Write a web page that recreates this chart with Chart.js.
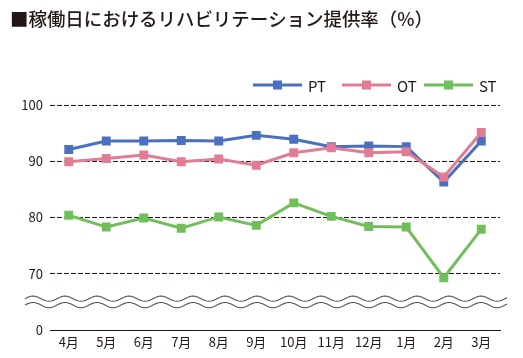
<!DOCTYPE html>
<html>
<head>
<meta charset="utf-8">
<script src="https://cdn.jsdelivr.net/npm/chart.js@4/dist/chart.umd.min.js"></script>
<style>
html,body{margin:0;padding:0;background:#fff;}
#wrap{width:523px;height:358px;position:relative;}
</style>
</head>
<body>
<div id="wrap"><canvas id="c" width="523" height="358"></canvas></div>
<script>
const titleText = '■稼働日におけるリハビリテーション提供率（%）';
const categories = ['4月','5月','6月','7月','8月','9月','10月','11月','12月','1月','2月','3月'];
const seriesNames = ['PT','OT','ST'];
const ptValues = [92.1, 93.6, 93.6, 93.7, 93.6, 94.6, 93.9, 92.6, 92.7, 92.6, 86.3, 93.6];
const otValues = [89.9, 90.5, 91.1, 89.9, 90.4, 89.3, 91.5, 92.4, 91.5, 91.7, 87.2, 95.1];
const stValues = [80.4, 78.3, 79.9, 78.1, 80.1, 78.6, 82.6, 80.2, 78.4, 78.3, 69.3, 77.9];
const tickValues = [60, 70, 80, 90, 100];
const tickLabels = ['0', '70', '80', '90', '100'];
const colors = ['#4b70bf', '#e07c93', '#71bf5a'];

const FONT = '"Noto Sans CJK JP", "Noto Sans", sans-serif';

const decor = {
  id: 'decor',
  afterDraw(chart) {
    const ctx = chart.ctx;
    const ca = chart.chartArea;
    const y = chart.scales.y;
    // title
    ctx.save();
    ctx.fillStyle = '#231815';
    ctx.font = '500 18.5px ' + FONT;
    ctx.textBaseline = 'middle';
    ctx.textAlign = 'left';
    const tw = ctx.measureText(titleText).width;
    const target = 423;
    ctx.translate(10, 19);
    ctx.scale(target / tw, 1);
    ctx.fillText(titleText, 0, 0);
    ctx.restore();
    // legend
    const starts = [253, 342, 424];
    ctx.save();
    chart.data.datasets.forEach((ds, i) => {
      const x0 = starts[i], ly = 85;
      ctx.strokeStyle = ds.borderColor;
      ctx.lineWidth = 3;
      ctx.beginPath(); ctx.moveTo(x0, ly); ctx.lineTo(x0 + 49, ly); ctx.stroke();
      ctx.fillStyle = ds.borderColor;
      ctx.fillRect(x0 + 24.5 - 4.5, ly - 4.5, 9, 9);
      ctx.fillStyle = '#231815';
      ctx.font = '15px ' + FONT;
      ctx.textBaseline = 'middle';
      ctx.fillText(ds.label, x0 + 55, ly + 1);
    });
    ctx.restore();
    // axis break waves
    const yc = (y.getPixelForValue(60) + y.getPixelForValue(70)) / 2;
    ctx.save();
    ctx.strokeStyle = '#555';
    ctx.lineWidth = 1.1;
    [-3.2, 3.2].forEach(off => {
      ctx.beginPath();
      for (let x = ca.left - 25; x <= ca.right + 7; x += 1) {
        const yy = yc + off + 2.6 * Math.sin((x - (ca.left - 25)) / 32 * 2 * Math.PI + Math.PI);
        if (x === ca.left - 25) ctx.moveTo(x, yy); else ctx.lineTo(x, yy);
      }
      ctx.stroke();
    });
    ctx.restore();
  }
};

const mk = (i, data, order) => ({
  label: seriesNames[i], data, borderColor: colors[i], backgroundColor: colors[i],
  borderWidth: 3, pointStyle: 'rect', pointRadius: 6.3, pointHoverRadius: 6.3,
  pointBorderWidth: 0, tension: 0, order
});

new Chart(document.getElementById('c'), {
  type: 'line',
  data: {
    labels: categories,
    datasets: [mk(0, ptValues, 1), mk(1, otValues, 0), mk(2, stValues, 2)]
  },
  options: {
    responsive: false, animation: false, devicePixelRatio: 1,
    layout: { padding: { top: 105, right: 23, bottom: 0, left: 0 } },
    plugins: { legend: { display: false }, title: { display: false }, tooltip: { enabled: false } },
    scales: {
      x: {
        offset: true,
        grid: { display: false, drawTicks: false, offset: true },
        border: { display: true, color: '#231815', width: 1 },
        ticks: { color: '#231815', font: { family: FONT, size: 13 }, padding: 4, maxRotation: 0, autoSkip: false },
        afterFit(s) { s.height = 28; }
      },
      y: {
        min: 60, max: 100,
        afterBuildTicks(s) { s.ticks = tickValues.map(v => ({ value: v })); },
        grid: {
          drawTicks: false,
          color: c => (c.tick && c.tick.value === 60) ? 'rgba(0,0,0,0)' : '#231815',
          lineWidth: 1
        },
        border: { display: false, dash: [5, 2] },
        ticks: {
          color: '#231815', font: { family: FONT, size: 13 }, padding: 7,
          callback: (v, idx) => tickLabels[tickValues.indexOf(v)]
        },
        afterFit(s) { s.width = 50; }
      }
    }
  },
  plugins: [decor]
});
</script>
</body>
</html>
